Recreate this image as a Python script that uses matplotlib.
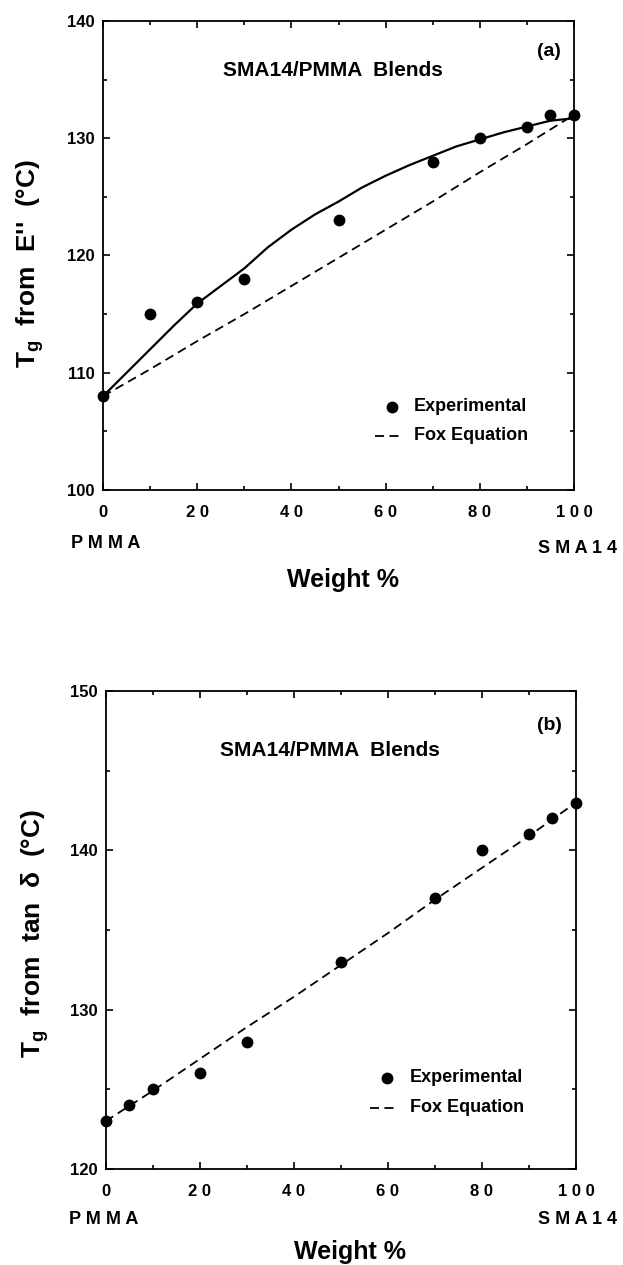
import matplotlib
matplotlib.use("Agg")
import matplotlib.pyplot as plt
from matplotlib.ticker import MultipleLocator, FixedLocator, FixedFormatter
from matplotlib.lines import Line2D

plt.rcParams['font.family'] = ['Liberation Sans', 'DejaVu Sans']
plt.rcParams['font.weight'] = 'bold'
plt.rcParams['mathtext.fontset'] = 'custom'
plt.rcParams['mathtext.rm'] = 'Liberation Sans:bold'
plt.rcParams['mathtext.it'] = 'Liberation Sans:bold'
plt.rcParams['mathtext.bf'] = 'Liberation Sans:bold'

# ---- Panel (a): Tg from E'' ----
a_exp_x = [0, 10, 20, 30, 50, 70, 80, 90, 95, 100]
a_exp_y = [108, 115, 116, 118, 123, 128, 130, 131, 132, 132]
a_fit_x = [0, 5, 10, 15, 20, 25, 30, 35, 40, 45, 50, 55, 60, 65, 70, 75, 80, 85, 90, 95, 100]
a_fit_y = [108, 110.0, 112.0, 114.0, 115.9, 117.4, 118.9, 120.7, 122.2, 123.5, 124.6,
           125.8, 126.8, 127.7, 128.5, 129.3, 129.9, 130.5, 131.0, 131.5, 131.7]
a_fox_x = [0, 10, 20, 30, 40, 50, 60, 70, 80, 90, 100]
a_fox_y = [108, 110.3, 112.7, 115.0, 117.4, 119.8, 122.2, 124.6, 127.1, 129.5, 132]

# ---- Panel (b): Tg from tan delta ----
b_exp_x = [0, 5, 10, 20, 30, 50, 70, 80, 90, 95, 100]
b_exp_y = [123, 124, 125, 126, 128, 133, 137, 140, 141, 142, 143]
b_fox_x = [0, 10, 20, 30, 40, 50, 60, 70, 80, 90, 100]
b_fox_y = [123, 124.9, 126.9, 128.9, 130.8, 132.8, 134.8, 136.9, 138.9, 140.9, 143]

x_ticks = [0, 20, 40, 60, 80, 100]
x_ticklabels = ['0', '2 0', '4 0', '6 0', '8 0', '1 0 0']

fig = plt.figure(figsize=(6.23, 12.65), dpi=100)
W, H = 623.0, 1265.0

def setup(ax, ylim, ymajor, ylabel):
    ax.set_xlim(0, 100)
    ax.set_ylim(*ylim)
    ax.xaxis.set_major_locator(FixedLocator(x_ticks))
    ax.xaxis.set_major_formatter(FixedFormatter(x_ticklabels))
    ax.xaxis.set_minor_locator(MultipleLocator(10))
    ax.yaxis.set_major_locator(MultipleLocator(ymajor))
    ax.yaxis.set_minor_locator(MultipleLocator(ymajor / 2))
    ax.tick_params(which='both', direction='in', top=True, right=True, width=1.2)
    ax.tick_params(which='major', length=5)
    ax.tick_params(which='minor', length=3)
    ax.tick_params(axis='x', labelsize=12, pad=11)
    ax.tick_params(axis='y', labelsize=12, pad=6)
    for lab in ax.get_xticklabels() + ax.get_yticklabels():
        lab.set_fontweight('bold')
    for s in ax.spines.values():
        s.set_linewidth(1.3)
    ax.set_ylabel(ylabel, fontsize=19, fontweight='bold')
    ax.yaxis.label.set_va('center')

def legend(ax, mx, my1, my2, dx0, dx1, tx):
    ax.plot([mx], [my1], 'o', color='black', ms=7.5, transform=fig.transFigure, clip_on=False)
    ax.add_line(Line2D([dx0, dx1], [my2, my2], color='black', lw=1.3, dashes=(5, 3),
                       transform=fig.transFigure))
    fig.text(tx, my1, 'Experimental', fontsize=13, fontweight='bold', va='center', ha='left')
    fig.text(tx, my2, 'Fox Equation', fontsize=13, fontweight='bold', va='center', ha='left')

# top axes
ax1 = fig.add_axes([103 / W, 1 - 490 / H, 471 / W, 469 / H])
ax1.plot(a_fit_x, a_fit_y, '-', color='black', lw=1.6)
ax1.plot(a_fox_x, a_fox_y, color='black', lw=1.3, dashes=(5, 3))
ax1.plot(a_exp_x, a_exp_y, 'o', color='black', ms=7.5, clip_on=False, zorder=5)
setup(ax1, (100, 140), 10, r"T$_\mathregular{g}$  from  E''  (°C)")
ax1.text(333 / W, 1 - 70 / H, 'SMA14/PMMA  Blends', transform=fig.transFigure,
         fontsize=15, fontweight='bold', ha='center', va='center')
ax1.text(549 / W, 1 - 52 / H, '(a)', transform=fig.transFigure,
         fontsize=14, fontweight='bold', ha='center', va='center')
legend(ax1, 392 / W, 1 - 407 / H, 1 - 436 / H, 375 / W, 403 / W, 414 / W)
fig.text(106 / W, 1 - 544 / H, 'P M M A', fontsize=13, fontweight='bold', ha='center', va='center')
fig.text(577 / W, 1 - 549 / H, 'S M A 1 4', fontsize=13, fontweight='bold', ha='center', va='center')
fig.text(343 / W, 1 - 580 / H, 'Weight %', fontsize=18, fontweight='bold', ha='center', va='center')
ax1.yaxis.set_label_coords((30 - 103) / 471, (490 - 264) / 469)

# bottom axes
ax2 = fig.add_axes([105.6 / W, 1 - 1169 / H, 470.4 / W, 478 / H])
ax2.plot(b_fox_x, b_fox_y, color='black', lw=1.3, dashes=(5, 3))
ax2.plot(b_exp_x, b_exp_y, 'o', color='black', ms=7.5, clip_on=False, zorder=5)
setup(ax2, (120, 150), 10, r"T$_\mathregular{g}$  from  tan  $\delta$  (°C)")
ax2.text(330 / W, 1 - 750 / H, 'SMA14/PMMA  Blends', transform=fig.transFigure,
         fontsize=15, fontweight='bold', ha='center', va='center')
ax2.text(549 / W, 1 - 726 / H, '(b)', transform=fig.transFigure,
         fontsize=14, fontweight='bold', ha='center', va='center')
legend(ax2, 387 / W, 1 - 1078 / H, 1 - 1108 / H, 370 / W, 398 / W, 410 / W)
fig.text(104 / W, 1 - 1220 / H, 'P M M A', fontsize=13, fontweight='bold', ha='center', va='center')
fig.text(578 / W, 1 - 1220 / H, 'S M A 1 4', fontsize=13, fontweight='bold', ha='center', va='center')
fig.text(350 / W, 1 - 1252 / H, 'Weight %', fontsize=18, fontweight='bold', ha='center', va='center')
ax2.yaxis.set_label_coords((35 - 105.6) / 470.4, (1169 - 933) / 478)

fig.savefig('out.png', dpi=100)
